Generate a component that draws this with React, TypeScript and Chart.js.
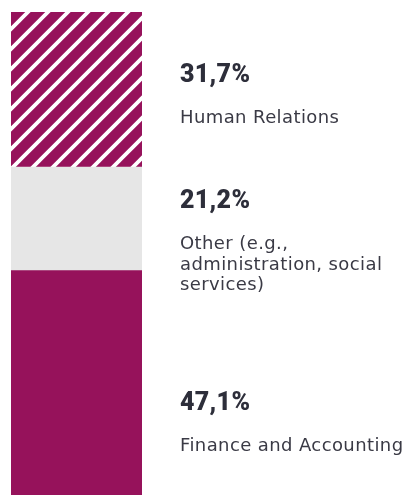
import React, { useEffect, useRef } from "react";
import { Chart, registerables } from "chart.js";

Chart.register(...registerables);

// Stacked from bottom to top
const categories = ["Finance and Accounting", "Other (e.g., administration, social services)", "Human Relations"];
const values = [47.1, 21.2, 31.7];
const labelLines = [["Finance and Accounting"], ["Other (e.g.,", "administration, social", "services)"], ["Human Relations"]];
const fills = ["solid", "gray", "hatch"];

const PURPLE = "#96125b";
const GRAY = "#e6e6e6";
const TEXT = "#2d2e3a";
const BODY = "#3a3a45";
const BODY_FONT = "'DejaVu Sans', sans-serif";
const PCT_FONT = "Roboto, sans-serif";

// label layout: baseline of percentage text per segment (bottom to top)
const pctBaseline = [410, 208, 82];

function makeHatch(): CanvasPattern | string {
  const size = 20;
  const c = document.createElement("canvas");
  c.width = size;
  c.height = size;
  const ctx = c.getContext("2d");
  if (!ctx) return PURPLE;
  ctx.fillStyle = PURPLE;
  ctx.fillRect(0, 0, size, size);
  ctx.strokeStyle = "#ffffff";
  ctx.lineWidth = 3.8;
  ctx.beginPath();
  for (let k = -1; k <= 1; k++) {
    ctx.moveTo(k * size - 2, size + 2);
    ctx.lineTo(k * size + size + 2, -2);
  }
  ctx.stroke();
  const p = ctx.createPattern(c, "repeat");
  return p || PURPLE;
}

export default function App() {
  const ref = useRef<HTMLCanvasElement>(null);
  useEffect(() => {
    if (!ref.current) return;
    const hatch = makeHatch();
    const labelPlugin = {
      id: "sideLabels",
      afterDraw(chart: any) {
        const ctx = chart.ctx;
        const x = 180;
        ctx.save();
        ctx.textAlign = "left";
        ctx.textBaseline = "alphabetic";
        values.forEach((v, i) => {
          const y = pctBaseline[i];
          ctx.fillStyle = TEXT;
          ctx.font = `900 25px ${PCT_FONT}`;
          (ctx as any).letterSpacing = "0.3px";
          ctx.fillText(v.toFixed(1).replace(".", ",") + "%", x, y);
          ctx.font = `18px ${BODY_FONT}`;
          (ctx as any).letterSpacing = "0.4px";
          ctx.fillStyle = BODY;
          labelLines[i].forEach((line, j) => {
            ctx.fillText(line, x, y + 41 + j * 20.7);
          });
        });
        ctx.restore();
      },
    };
    const chart = new Chart(ref.current, {
      type: "bar",
      data: {
        labels: [""],
        datasets: values.map((v, i) => ({
          label: categories[i],
          data: [v],
          backgroundColor: fills[i] === "solid" ? PURPLE : fills[i] === "gray" ? GRAY : (hatch as any),
          borderWidth: 0,
          barPercentage: 1,
          categoryPercentage: 1,
        })),
      },
      options: {
        animation: false,
        responsive: false,
        maintainAspectRatio: false,
        layout: { padding: { left: 11, top: 12, right: 267, bottom: 0 } },
        plugins: { legend: { display: false }, tooltip: { enabled: false } },
        scales: {
          x: { stacked: true, display: false },
          y: { stacked: true, display: false, min: 0, max: 100 },
        },
      },
      plugins: [labelPlugin],
    });
    return () => chart.destroy();
  }, []);
  return (
    <div style={{ position: "absolute", left: 0, top: 0, width: 409, height: 495, overflow: "hidden", background: "#fff" }}>
      <canvas ref={ref} width={409} height={501} style={{ display: "block" }} />
    </div>
  );
}
